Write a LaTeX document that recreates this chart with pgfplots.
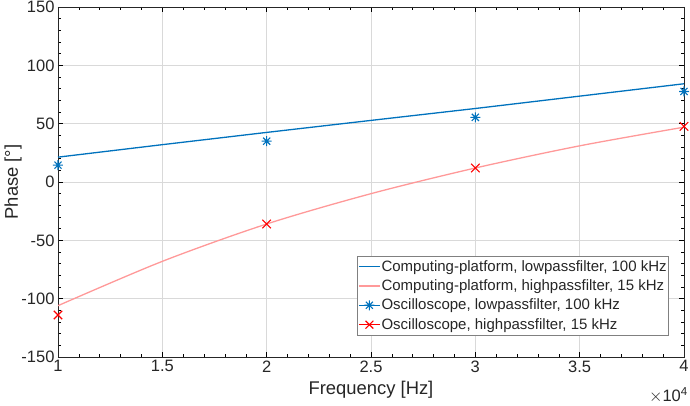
\documentclass[border=0pt]{standalone}
\usepackage{pgfplots}
\pgfplotsset{compat=1.18}
\usepackage{fontspec}
\setmainfont{Liberation Sans}
\definecolor{mblue}{rgb}{0,0.447,0.741}
\definecolor{mpink}{rgb}{1,0.6,0.6}
\pgfdeclareplotmark{mast}{%
  \pgfpathmoveto{\pgfqpoint{-\pgfplotmarksize}{0pt}}\pgfpathlineto{\pgfqpoint{\pgfplotmarksize}{0pt}}%
  \pgfpathmoveto{\pgfqpoint{0pt}{-\pgfplotmarksize}}\pgfpathlineto{\pgfqpoint{0pt}{\pgfplotmarksize}}%
  \pgfpathmoveto{\pgfqpoint{-.7071\pgfplotmarksize}{-.7071\pgfplotmarksize}}\pgfpathlineto{\pgfqpoint{.7071\pgfplotmarksize}{.7071\pgfplotmarksize}}%
  \pgfpathmoveto{\pgfqpoint{-.7071\pgfplotmarksize}{.7071\pgfplotmarksize}}\pgfpathlineto{\pgfqpoint{.7071\pgfplotmarksize}{-.7071\pgfplotmarksize}}%
  \pgfusepathqstroke}
\begin{document}
\begin{tikzpicture}
\begin{axis}[
  name=ax,
  scale only axis, width=626pt, height=350pt,
  xmin=1, xmax=4, ymin=-150, ymax=150,
  xtick={1,1.5,2,2.5,3,3.5,4},
  xticklabels={1,1.5,2,2.5,3,3.5,4},
  ytick={-150,-100,-50,0,50,100,150},
  minor x tick num=4, minor y tick num=4,
  grid=major, major grid style={black!15, line width=0.8pt},
  tick align=inside, major tick length=5pt, minor tick length=3pt,
  every tick/.style={black, line width=0.6pt},
  axis line style={line width=0.8pt, black!85},
  /pgf/number format/assume math mode=true,
  ticklabel style={font=\fontsize{16.5}{18}\selectfont, text=black!85},
  xlabel={Frequency [Hz]}, ylabel={Phase [°]},
  label style={font=\fontsize{18.4}{20}\selectfont, text=black!85},
  xlabel style={yshift=-2pt},
  ylabel style={yshift=-7pt},
  legend style={at={(rel axis cs:0.976,0.0625)}, anchor=south east,
    draw=black!50, line width=0.6pt, font=\fontsize{15}{17}\selectfont,
    row sep=5pt, inner xsep=1pt, inner ysep=3pt, text=black!85,
    nodes={inner xsep=1pt, inner ysep=1pt}},
  legend cell align=left,
  legend image code/.code={\draw[mark repeat=2,mark phase=2] plot coordinates {(0pt,0pt) (10.5pt,0pt) (21pt,0pt)};},
]
\addplot[mblue, line width=1.3pt] coordinates {
 (1,21.3) (1.5,32) (2,42.5) (2.5,52.8) (3,63) (3.5,73.6) (4,84.2)};
\addlegendentry{Computing-platform, lowpassfilter, 100 kHz}
\addplot[mpink, line width=1.3pt, smooth] coordinates {
 (1,-106) (1.5,-68) (2,-36) (2.5,-10) (3,12) (3.5,31) (4,47)};
\addlegendentry{Computing-platform, highpassfilter, 15 kHz}
\addlegendimage{mblue, line width=1.1pt, mark=mast, mark size=5pt, mark options={solid}}
\addlegendentry{Oscilloscope, lowpassfilter, 100 kHz}
\addlegendimage{red, line width=1.1pt, mark=x, mark size=5.5pt, mark options={solid}}
\addlegendentry{Oscilloscope, highpassfilter, 15 kHz}
\addplot[mblue, only marks, mark=mast, mark size=5pt, line width=1.1pt, forget plot] coordinates {
 (1,14.5) (2,35) (3,55.4) (4,77.6)};
\addplot[red, only marks, mark=x, mark size=6pt, line width=1.1pt, forget plot] coordinates {
 (1,-114) (2,-36) (3,12) (4,47.7)};
\end{axis}
\node[anchor=base east, font=\fontsize{16.5}{18}\selectfont, text=black!85, inner sep=0pt] at ([xshift=4pt,yshift=-45pt]ax.south east) {$\times$10\textsuperscript{4}};
\pgfresetboundingbox
\path ([xshift=-58pt,yshift=-49pt]ax.south west) rectangle ([xshift=6pt,yshift=7pt]ax.north east);
\end{tikzpicture}
\end{document}
